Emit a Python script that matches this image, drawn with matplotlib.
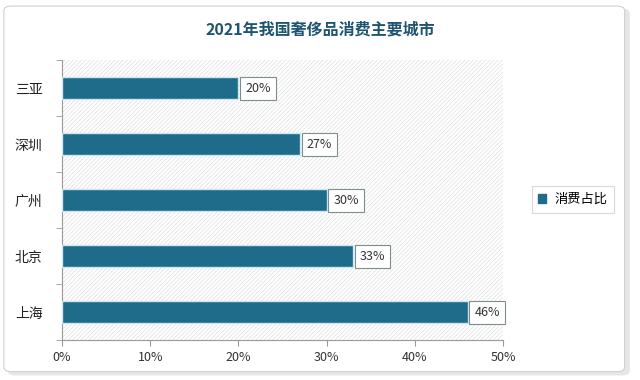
import matplotlib
matplotlib.use('Agg')
import matplotlib.pyplot as plt
from matplotlib.patches import FancyBboxPatch, Rectangle
from matplotlib.ticker import FuncFormatter

plt.rcParams['font.family'] = ['Noto Sans CJK SC', 'DejaVu Sans']
plt.rcParams['hatch.linewidth'] = 0.5

cities = ['三亚', '深圳', '广州', '北京', '上海']
shares = [20, 27, 30, 33, 46]
title = '2021年我国奢侈品消费主要城市'
legend_label = '消费占比'

bar_color = '#1e6b8a'

fig = plt.figure(figsize=(6.4, 3.8), dpi=100)

# outer frame with soft shadow
fig.patches.append(FancyBboxPatch((0.012, 0.012), 0.972, 0.965,
                                  boxstyle='round,pad=0,rounding_size=0.012',
                                  transform=fig.transFigure, facecolor='#e6e6e6',
                                  edgecolor='none', zorder=0))
fig.patches.append(FancyBboxPatch((0.006, 0.022), 0.97, 0.962,
                                  boxstyle='round,pad=0,rounding_size=0.012',
                                  transform=fig.transFigure, facecolor='white',
                                  edgecolor='#d0d0d0', linewidth=0.8, zorder=1))

ax = fig.add_axes([0.097, 0.105, 0.689, 0.737])
ax.set_zorder(2)
ax.patch.set_visible(False)
ax.add_patch(Rectangle((0, 0), 1, 1, transform=ax.transAxes, facecolor='white',
                       edgecolor='#e0e0e0', hatch='////////', linewidth=0, zorder=0))

y = list(range(len(cities)))[::-1]
ax.barh(y, shares, height=0.38, color=bar_color, edgecolor='#cde6ef',
        linewidth=1.0, zorder=3)

for yi, v in zip(y, shares):
    ax.text(v + 0.75, yi, f'{v}%', va='center', ha='left', fontsize=9,
            color='#333333', zorder=5,
            bbox=dict(boxstyle='square,pad=0.4', facecolor='white',
                      edgecolor='#7f8c8d', linewidth=0.8))

ax.set_xlim(0, 50)
ax.set_ylim(-0.5, len(cities) - 0.5)
ax.set_yticks(y)
ax.set_yticklabels(cities, fontsize=10, color='#222222')
ax.set_xticks(range(0, 51, 10))
ax.xaxis.set_major_formatter(FuncFormatter(lambda v, p: f'{v:.0f}%'))
ax.tick_params(axis='x', labelsize=9, colors='#333333', length=4, color='#999999')
ax.set_yticks([i - 0.5 for i in range(len(cities) + 1)], minor=True)
ax.tick_params(axis='y', which='minor', length=4, color='#999999')
ax.tick_params(axis='y', which='major', length=0, pad=14)
for s in ['top', 'right']:
    ax.spines[s].set_visible(False)
for s in ['left', 'bottom']:
    ax.spines[s].set_color('#999999')
    ax.spines[s].set_linewidth(0.8)

fig.text(0.5, 0.922, title, ha='center', va='center', fontsize=11.5,
         fontweight='bold', color='#1d5470')

leg = fig.legend([Rectangle((0, 0), 1, 1, color=bar_color)], [legend_label],
                 loc='center', bbox_to_anchor=(0.895, 0.475), fontsize=9.5,
                 frameon=True, fancybox=False, handlelength=0.6, handleheight=0.6,
                 handletextpad=0.6, borderpad=0.5)
leg.get_frame().set_edgecolor('#d0d0d0')
leg.get_frame().set_linewidth(0.8)

fig.savefig('out.png', dpi=100)
